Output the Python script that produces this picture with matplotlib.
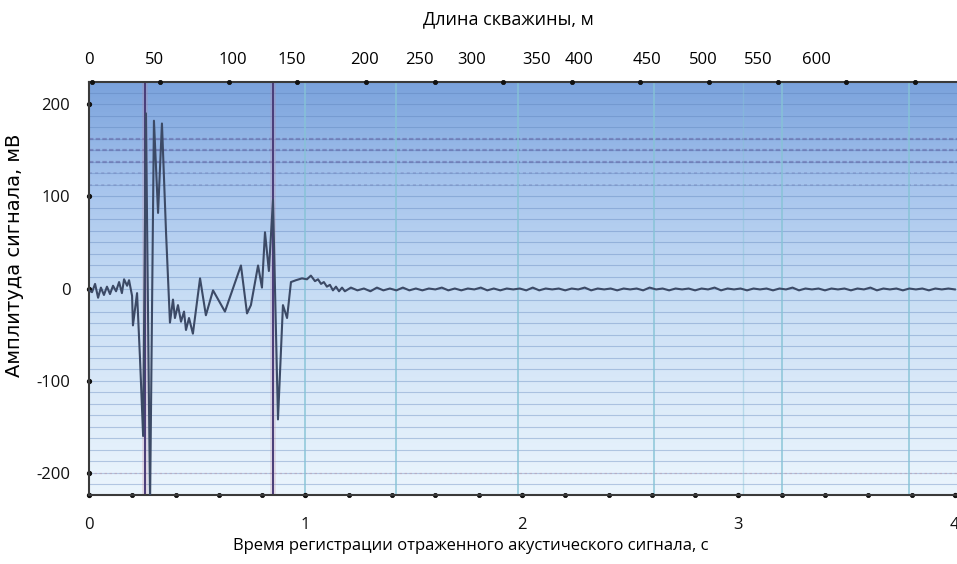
import numpy as np
import matplotlib
matplotlib.use("Agg")
import matplotlib.pyplot as plt
from matplotlib.colors import LinearSegmentedColormap

plt.rcParams['font.family'] = ['Open Sans', 'DejaVu Sans']
plt.rcParams['axes.unicode_minus'] = False

# --- signal: burst part (time, s / amplitude, mV) ---
burst_t = [0.000, 0.014, 0.028, 0.042, 0.055, 0.069, 0.083, 0.097, 0.111, 0.125,
           0.139, 0.152, 0.162, 0.176, 0.185, 0.199, 0.203, 0.222, 0.236, 0.250,
           0.263, 0.282, 0.300, 0.319, 0.337, 0.356, 0.374, 0.388, 0.397, 0.411,
           0.425, 0.439, 0.448, 0.462, 0.480, 0.513, 0.540, 0.573, 0.628, 0.702,
           0.730, 0.748, 0.781, 0.799, 0.813, 0.831, 0.850, 0.873, 0.896, 0.915,
           0.933, 0.956, 0.984, 1.007, 1.025, 1.044, 1.058, 1.072, 1.085, 1.099,
           1.113, 1.127, 1.141, 1.155, 1.169, 1.182]
burst_v = [-2, -4, 5, -10, 1, -7, 2, -6, 3, -3,
           7, -5, 10, 3, 9, -8, -40, -5, -78, -160,
           190, -235, 182, 82, 179, 60, -37, -12, -32, -18,
           -36, -25, -45, -32, -49, 11, -29, -2, -25, 25,
           -27, -18, 25, 1, 61, 19, 96, -142, -18, -32,
           7, 9, 11, 10, 14, 8, 10, 5, 7, 2,
           4, -2, 2, -3, 1, -3]

# --- signal: tail, sampled every 0.03 s from 1.21 s ---
tail_start = 1.21
tail_step = 0.03
tail_v = [1, -2, 0, -3, 1, -2, 0, -2, 1, -2,
          0, -2, 0, -1, 1, -2, 0, -2, 0, -1,
          1, -2, 0, -2, 0, -1, 0, -2, 1, -2,
          0, -1, 0, -2, 0, -1, 1, -2, 0, -1,
          0, -2, 0, -1, 0, -2, 1, -1, 0, -2,
          0, -1, 0, -2, 0, -1, 1, -2, 0, -1,
          0, -2, 0, -1, 0, -2, 0, -1, 1, -2,
          0, -1, 0, -2, 0, -1, 0, -2, 0, -1,
          1, -2, 0, -1, 0, -2, 0, -1, 0, -2,
          0, -1, 0, -1]

# reflection markers and reference verticals (s)
marker_t = [0.258, 0.850]
vgrid_t = [1.00, 1.42, 1.98, 2.61, 3.20, 3.79]
vgrid_faint_t = [3.02]

# axis ticks
x_major = [0, 1, 2, 3, 4]
x_dots = np.round(np.arange(0, 4.01, 0.2), 1)
y_major = [-200, -100, 0, 100, 200]
hgrid_step = 12.5
band_lines = [162.5, 150, 137.5]
band_lines_light = [125, 112.5]

depth_labels = ['0', '50', '100', '150', '200', '250', '300',
                '350', '400', '450', '500', '550', '600']
depth_label_pos = [-2, 46, 103, 146, 199, 239, 277, 324, 355, 405, 446, 486, 528]
depth_dots = np.arange(0, 601, 50)

X_MAX = 4.01
Y_LIM = (-224, 224)
M_PER_S = 630.8 / X_MAX

tail_t = tail_start + tail_step * np.arange(len(tail_v))
t = np.concatenate([burst_t, tail_t])
v = np.concatenate([burst_v, tail_v])

fig = plt.figure(figsize=(9.57, 5.64), dpi=100)
ax = fig.add_axes([0.093, 0.1223, 0.907, 0.7323])

# background gradient, dark blue at top to pale blue at bottom
bg = LinearSegmentedColormap.from_list(
    'bg', ['#ebf5fd', '#dbeaf9', '#c6dcf4', '#a6c4ed', '#7aa2dc'])
grad = np.linspace(0, 1, 256).reshape(-1, 1)
ax.imshow(grad, cmap=bg, origin='lower', aspect='auto',
          extent=[0, X_MAX, Y_LIM[0], Y_LIM[1]], zorder=0)

# dense horizontal grid
for yv in np.arange(-225, 226, hgrid_step):
    ax.axhline(yv, color='#5a7fb8', lw=0.8, alpha=0.38, zorder=1)
for yv in band_lines:
    ax.axhline(yv, color='#5f5e9e', lw=1.6, ls=(0, (2, 1)), alpha=0.5, zorder=1)
for yv in band_lines_light:
    ax.axhline(yv, color='#6a78b0', lw=1.1, ls=(0, (2, 2)), alpha=0.4, zorder=1)
ax.axhline(-200, color='#c08a9a', lw=0.9, ls=(0, (2, 2)), alpha=0.4, zorder=1)

for xv in vgrid_t:
    ax.axvline(xv, color='#86c3d6', lw=1.3, alpha=0.8, zorder=1)
for xv in vgrid_faint_t:
    ax.axvline(xv, color='#86c3d6', lw=1.0, alpha=0.45, zorder=1)

for xv in marker_t:
    ax.axvline(xv, color='#c07f98', lw=4, alpha=0.25, zorder=2)
    ax.axvline(xv, color='#4a3c78', lw=1.4, zorder=2)

ax.plot(t, v, color='#3c4a66', lw=1.5, zorder=3)

ax.set_xlim(0, X_MAX)
ax.set_ylim(*Y_LIM)

ax.spines['right'].set_visible(False)
for side in ['left', 'bottom', 'top']:
    ax.spines[side].set_color('#3a3a3a')
    ax.spines[side].set_linewidth(1.5)

ax.set_xticks(x_major)
ax.set_xticks(x_dots, minor=True)
ax.set_yticks(y_major)
ax.tick_params(axis='both', which='both', labelsize=12, colors='#111111')
ax.tick_params(axis='x', which='major', pad=12)
ax.tick_params(axis='y', which='major', pad=10)
for ln in ax.xaxis.get_ticklines() + ax.xaxis.get_ticklines(minor=True) + ax.yaxis.get_ticklines():
    ln.set_marker('o')
    ln.set_markersize(3)
    ln.set_markerfacecolor('#111111')
    ln.set_markeredgecolor('#111111')

ax.set_xlabel('Время регистрации отраженного акустического сигнала, с', fontsize=12)
ax.xaxis.set_label_coords(0.44, -0.105)
ax.set_ylabel('Амплитуда сигнала, мВ', fontsize=14, family=['DejaVu Sans'])
ax.yaxis.set_label_coords(-0.075, 0.58)

# depth axis on top
top = ax.twiny()
top.set_xlim(0, X_MAX * M_PER_S)
top.set_xticks(depth_label_pos)
top.set_xticklabels(depth_labels)
top.set_xticks(depth_dots, minor=True)
top.tick_params(axis='x', which='major', length=0, labelsize=12, pad=10)
for ln in top.xaxis.get_ticklines(minor=True):
    ln.set_marker('o')
    ln.set_markersize(3)
    ln.set_markerfacecolor('#111111')
    ln.set_markeredgecolor('#111111')
for side in top.spines:
    top.spines[side].set_visible(False)
top.set_xlabel('Длина скважины, м', fontsize=13)
top.xaxis.set_label_coords(0.483, 1.14)

fig.savefig('out.png', dpi=100)
